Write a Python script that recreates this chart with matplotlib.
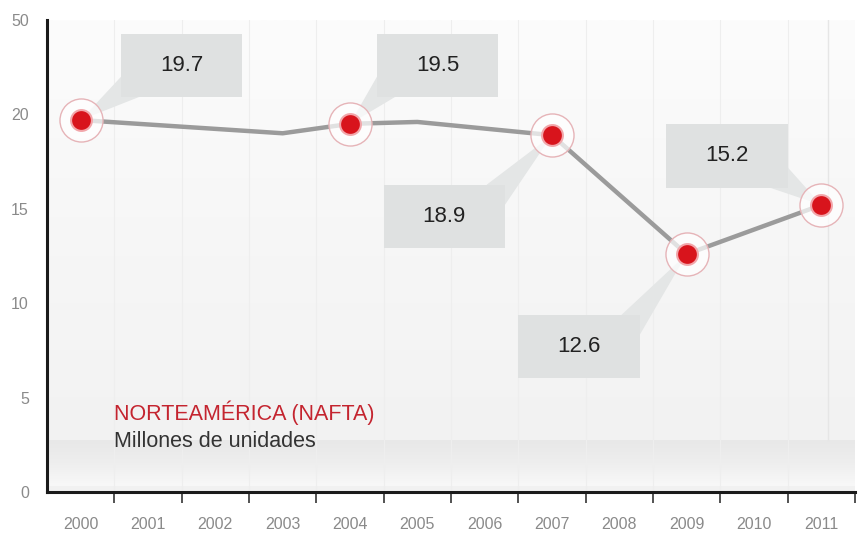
import numpy as np
import matplotlib
matplotlib.use('Agg')
import matplotlib.pyplot as plt
from matplotlib.colors import LinearSegmentedColormap
from matplotlib.patches import Rectangle, Polygon

# Data
years = list(range(2000, 2012))
line_years = [2000, 2003, 2004, 2005, 2007, 2009, 2011]
line_values = [19.7, 19.0, 19.5, 19.6, 18.9, 12.6, 15.2]
marked_years = [2000, 2004, 2007, 2009, 2011]
marked_values = [19.7, 19.5, 18.9, 12.6, 15.2]
marked_labels = ['19.7', '19.5', '18.9', '12.6', '15.2']
ytick_values = [0, 5, 10, 15, 20, 25]
ytick_labels = ['0', '5', '10', '15', '20', '50']
title = 'NORTEAMÉRICA (NAFTA)'
subtitle = 'Millones de unidades'

# callout box offsets (years, units) relative to each marked point
box_offsets = [(1.5, 2.9), (1.3, 3.1), (-1.6, -4.3), (-1.6, -4.9), (-1.4, 2.6)]
box_w, box_h = 1.8, 3.35

plt.rcParams['font.family'] = ['Liberation Sans', 'DejaVu Sans']

fig = plt.figure(figsize=(8.65, 5.33), dpi=100)
fig.patch.set_facecolor('white')
ax = fig.add_axes([47 / 865, 41 / 533, 808 / 865, 472 / 533])
ax.set_xlim(1999.5, 2011.5)
ax.set_ylim(0, 25)

# soft background + "floor" band
bg = LinearSegmentedColormap.from_list('bg', ['#f1f1f1', '#f6f6f6', '#fcfcfc'])
ax.imshow(np.linspace(0, 1, 256).reshape(-1, 1), extent=(1999.5, 2011.5, 0, 25),
          origin='lower', aspect='auto', cmap=bg, zorder=0)
floor = LinearSegmentedColormap.from_list('floor', ['#f8f8f8', '#eeeeee', '#e8e8e8'])
ax.imshow(np.linspace(0, 1, 64).reshape(-1, 1), extent=(1999.5, 2011.5, 0.3, 2.7),
          origin='lower', aspect='auto', cmap=floor, zorder=0.5)
for b in np.arange(2000.5, 2011.5, 1):
    ax.axvline(b, color='#eeeeee', lw=0.8, zorder=0.6)
ax.axvline(2011.1, ymin=0.11, color='#e6e6e6', lw=1.0, zorder=0.6)

ax.plot(line_years, line_values, color='#9b9b9b', lw=3.2, zorder=3,
        solid_capstyle='round', solid_joinstyle='round')

# callouts
for yr, val, txt, (dx, dy) in zip(marked_years, marked_values, marked_labels, box_offsets):
    cx, cy = yr + dx, val + dy
    left, bottom = cx - box_w / 2, cy - box_h / 2
    corner_x = left if dx > 0 else left + box_w
    corner_y = bottom if dy > 0 else bottom + box_h
    sx = 1 if dx > 0 else -1
    sy = 1 if dy > 0 else -1
    tail = Polygon([(yr, val), (corner_x, corner_y + sy * 0.32 * box_h),
                    (corner_x + sx * 0.15 * box_w, corner_y)],
                   closed=True, facecolor='#e4e6e6', edgecolor='none', zorder=2)
    ax.add_patch(tail)
    ax.add_patch(Rectangle((left, bottom), box_w, box_h, facecolor='#dfe1e1',
                           edgecolor='none', zorder=2.1))
    ax.text(cx, cy, txt, ha='center', va='center', fontsize=16, color='#222222', zorder=2.2)

# markers: halo ring + red dot
ax.plot(marked_years, marked_values, 'o', ms=31, mfc=(1, 1, 1, 0.7), mec='#e6b4b8',
        mew=1.0, zorder=4, linestyle='none')
ax.plot(marked_years, marked_values, 'o', ms=15, mfc='#d8141c', mec='#f2a6aa',
        mew=1.5, zorder=5, linestyle='none')

ax.text(2000.5, 4.2, title, fontsize=15.5, color='#c4242f', va='center', ha='left', zorder=6)
ax.text(2000.5, 2.67, subtitle, fontsize=15.5, color='#333333', va='center', ha='left', zorder=6)

# axes styling
for s in ['top', 'right']:
    ax.spines[s].set_visible(False)
for s in ['left', 'bottom']:
    ax.spines[s].set_color('#1a1a1a')
    ax.spines[s].set_linewidth(2.2)

ax.set_xticks(years)
ax.set_xticklabels([str(y) for y in years])
ax.set_xticks(np.arange(2000.5, 2012, 1), minor=True)
ax.tick_params(axis='x', which='major', length=0, pad=18, labelsize=11.5, labelcolor='#8a8a8a')
ax.tick_params(axis='x', which='minor', length=8, width=1.3, color='#444444')
ax.set_yticks(ytick_values)
ax.set_yticklabels(ytick_labels)
ax.tick_params(axis='y', length=0, pad=13, labelsize=11.5, labelcolor='#8a8a8a')

fig.savefig('out.png', dpi=100)
